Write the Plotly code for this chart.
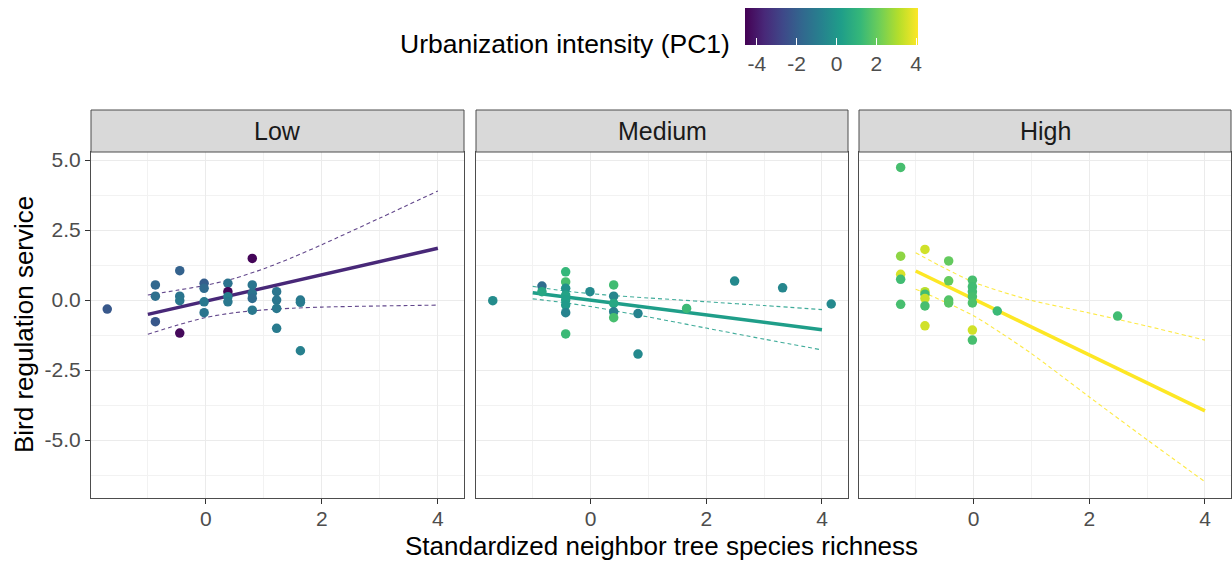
import plotly.graph_objects as go

# ---------------- data ----------------
panels = ["Low", "Medium", "High"]

low_x = [-1.70, -0.87, -0.87, -0.87, -0.45, -0.45, -0.45, -0.45, -0.03, -0.03, -0.03, -0.03,
         0.38, 0.38, 0.38, 0.38, 0.80, 0.80, 0.80, 0.80, 0.80, 1.22, 1.22, 1.22, 1.22, 1.63, 1.63, 1.63]
low_y = [-0.32, 0.54, 0.14, -0.77, 1.05, 0.14, -0.02, -1.18, 0.60, 0.42, -0.06, -0.45,
         0.60, 0.30, 0.12, -0.06, 1.49, 0.54, 0.24, 0.06, -0.36, 0.30, 0.00, -0.30, -1.01, 0.00, -0.08, -1.81]
low_pc1 = [-2.2, -1.7, -1.4, -2.2, -1.9, -1.2, -1.1, -4.4, -2.0, -1.6, -1.1, -1.2,
           -1.3, -4.5, -0.9, -1.1, -4.5, -1.2, -1.3, -1.5, -1.1, -1.2, -1.2, -1.1, -1.0, -1.1, -1.0, -0.8]

med_x = [-1.69, -0.84, -0.84, -0.43, -0.43, -0.43, -0.43, -0.43, -0.43, -0.43, -0.43, -0.01,
         0.40, 0.40, 0.40, 0.40, 0.40, 0.82, 0.82, 1.66, 2.49, 3.32, 4.16]
med_y = [-0.02, 0.50, 0.30, 1.01, 0.65, 0.42, 0.18, 0.00, -0.18, -0.45, -1.21, 0.30,
         0.54, 0.14, -0.12, -0.42, -0.63, -0.48, -1.93, -0.30, 0.68, 0.44, -0.14]
med_pc1 = [-0.4, -1.5, 0.6, 1.2, 1.5, -0.2, 0.4, 0.3, 0.1, -0.7, 1.3, -0.5,
           1.4, -0.6, 0.6, -0.8, 1.5, -0.7, -0.5, 1.3, -0.5, -0.6, -0.5]

high_x = [-1.26, -1.26, -1.26, -1.26, -1.26, -0.84, -0.84, -0.84, -0.84, -0.84, -0.84,
          -0.43, -0.43, -0.43, -0.43, -0.02, -0.02, -0.02, -0.02, -0.02, -0.02, -0.02, 0.41, 2.49]
high_y = [4.74, 1.57, 0.92, 0.74, -0.15, 1.81, 0.30, 0.21, 0.06, -0.21, -0.92,
          1.40, 0.69, 0.00, -0.10, 0.71, 0.48, 0.30, 0.12, -0.10, -1.07, -1.43, -0.39, -0.57]
high_pc1 = [1.5, 2.6, 3.6, 1.4, 1.5, 3.5, 3.2, 1.4, 3.4, 1.5, 3.5,
            2.0, 2.0, 1.7, 1.8, 1.5, 1.4, 1.4, 1.5, 1.6, 3.5, 1.5, 1.3, 1.4]

fit_x = [-1, 4]
low_fit = [-0.51, 1.85]
med_fit = [0.265, -1.06]
high_fit = [1.04, -3.96]

ci_x = [-1, -0.5, 0, 0.5, 1, 1.5, 2, 3, 4]
low_upper = [0.18, 0.35, 0.53, 0.78, 1.12, 1.53, 1.98, 2.93, 3.90]
low_lower = [-1.22, -0.90, -0.62, -0.45, -0.35, -0.29, -0.25, -0.21, -0.18]
med_upper = [0.49, 0.34, 0.23, 0.145, 0.075, 0.01, -0.06, -0.195, -0.34]
med_lower = [0.045, -0.08, -0.23, -0.415, -0.605, -0.80, -1.00, -1.395, -1.78]
high_upper = [1.69, 1.14, 0.64, 0.29, -0.01, -0.24, -0.46, -0.93, -1.43]
high_lower = [0.39, -0.06, -0.56, -1.21, -1.91, -2.68, -3.46, -4.99, -6.49]

x_ticks = [0, 2, 4]
x_ticktext = ["0", "2", "4"]
x_minor = [-1, 1, 3]
y_ticks = [-5, -2.5, 0, 2.5, 5]
y_ticktext = ["-5.0", "-2.5", "0.0", "2.5", "5.0"]
y_minor = [-6.25, -3.75, -1.25, 1.25, 3.75]
cb_ticks = [-4, -2, 0, 2, 4]
cb_ticktext = ["-4", "-2", "0", "2", "4"]

# ---------------- styling ----------------
W, H = 1232, 561
FONT = "Liberation Sans, Arial, sans-serif"
line_colors = ["#482878", "#1f9e89", "#fde725"]
x_px = [(91, 464), (476, 848), (859, 1231)]
y_top, y_bot = 152, 498
strip_top = 110

def px_x(p):
    return p / W

def px_y(p):
    return 1 - p / H

fig = go.Figure()

data = [
    (low_x, low_y, low_pc1, low_fit, low_upper, low_lower),
    (med_x, med_y, med_pc1, med_fit, med_upper, med_lower),
    (high_x, high_y, high_pc1, high_fit, high_upper, high_lower),
]

for i, (px_, py_, pc, fit, up, lo) in enumerate(data):
    xa = "x" if i == 0 else f"x{i+1}"
    ya = "y" if i == 0 else f"y{i+1}"
    col = line_colors[i]
    for band in (up, lo):
        fig.add_trace(go.Scatter(x=ci_x, y=band, mode="lines", xaxis=xa, yaxis=ya,
                                 line=dict(color=col, width=1.1, dash="4px,3px", shape="spline", smoothing=0.8),
                                 opacity=0.85, showlegend=False, hoverinfo="skip"))
    fig.add_trace(go.Scatter(x=fit_x, y=fit, mode="lines", xaxis=xa, yaxis=ya,
                             line=dict(color=col, width=3.5), showlegend=False))
    fig.add_trace(go.Scatter(x=px_, y=py_, mode="markers", xaxis=xa, yaxis=ya,
                             marker=dict(size=9.5, color=pc, coloraxis="coloraxis", line=dict(width=0)),
                             showlegend=False))

shapes = []
annotations = []
for i, (a, b) in enumerate(x_px):
    sfx = "" if i == 0 else str(i + 1)
    fig.layout["xaxis" + sfx] = dict(
        domain=[px_x(a), px_x(b)], range=[-1.98, 4.45], anchor="y" + sfx,
        tickvals=x_ticks, ticktext=x_ticktext, ticks="outside", ticklen=5, tickwidth=1,
        tickcolor="#333333", tickfont=dict(family=FONT, size=21, color="#4d4d4d"),
        ticklabelstandoff=-3,
        showgrid=True, gridcolor="#ebebeb", gridwidth=1.2, zeroline=False,
        minor=dict(tickvals=x_minor, showgrid=True, gridcolor="#f2f2f2", gridwidth=0.8, ticks=""),
        showline=True, linecolor="#4d4d4d", linewidth=1, mirror=True,
    )
    fig.layout["yaxis" + sfx] = dict(
        domain=[px_y(y_bot), px_y(y_top)], range=[-7.07, 5.29], anchor="x" + sfx,
        tickvals=y_ticks, ticktext=y_ticktext,
        ticks="outside" if i == 0 else "", ticklen=5, tickwidth=1, tickcolor="#333333",
        showticklabels=(i == 0),
        tickfont=dict(family=FONT, size=21, color="#4d4d4d"),
        showgrid=True, gridcolor="#ebebeb", gridwidth=1.2, zeroline=False,
        minor=dict(tickvals=y_minor, showgrid=True, gridcolor="#f2f2f2", gridwidth=0.8, ticks=""),
        showline=True, linecolor="#4d4d4d", linewidth=1, mirror=True,
    )
    shapes.append(dict(type="rect", xref="paper", yref="paper",
                       x0=px_x(a), x1=px_x(b), y0=px_y(y_top), y1=px_y(strip_top),
                       fillcolor="#d9d9d9", line=dict(color="#4d4d4d", width=1), layer="above"))
    annotations.append(dict(text=panels[i], xref="paper", yref="paper",
                            x=px_x((a + b) / 2), y=px_y((y_top + strip_top) / 2),
                            xanchor="center", yanchor="middle", showarrow=False,
                            font=dict(family=FONT, size=25, color="#1a1a1a")))

annotations.append(dict(text="Standardized neighbor tree species richness", xref="paper", yref="paper",
                        x=px_x(661), y=px_y(546), xanchor="center", yanchor="middle", showarrow=False,
                        font=dict(family=FONT, size=26, color="#000000")))
annotations.append(dict(text="Bird regulation service", xref="paper", yref="paper",
                        x=px_x(24), y=px_y(325), xanchor="center", yanchor="middle", showarrow=False,
                        textangle=-90, font=dict(family=FONT, size=26, color="#000000")))
annotations.append(dict(text="Urbanization intensity (PC1)", xref="paper", yref="paper",
                        x=px_x(732), y=px_y(44), xanchor="right", yanchor="middle", showarrow=False,
                        font=dict(family=FONT, size=26.5, color="#000000")))

fig.update_layout(
    width=W, height=H,
    margin=dict(l=0, r=0, t=0, b=0, pad=0, autoexpand=False),
    paper_bgcolor="white", plot_bgcolor="white",
    shapes=shapes, annotations=annotations,
    coloraxis=dict(
        colorscale="Viridis", cmin=-4.6, cmax=4.1,
        colorbar=dict(
            orientation="h", x=px_x(831.5), xanchor="center", y=px_y(8), yanchor="top",
            len=173, lenmode="pixels", thickness=37, thicknessmode="pixels",
            xpad=0, ypad=0, outlinewidth=0,
            tickvals=cb_ticks, ticktext=cb_ticktext, ticks="inside", ticklen=7,
            tickcolor="white", tickwidth=1.2,
            tickfont=dict(family=FONT, size=21, color="#4d4d4d"),
        ),
    ),
    showlegend=False,
)

fig.write_html("out.html", config={"displayModeBar": False},
               post_script="document.body.style.margin='0';document.body.style.padding='0';document.body.style.overflow='hidden';")
